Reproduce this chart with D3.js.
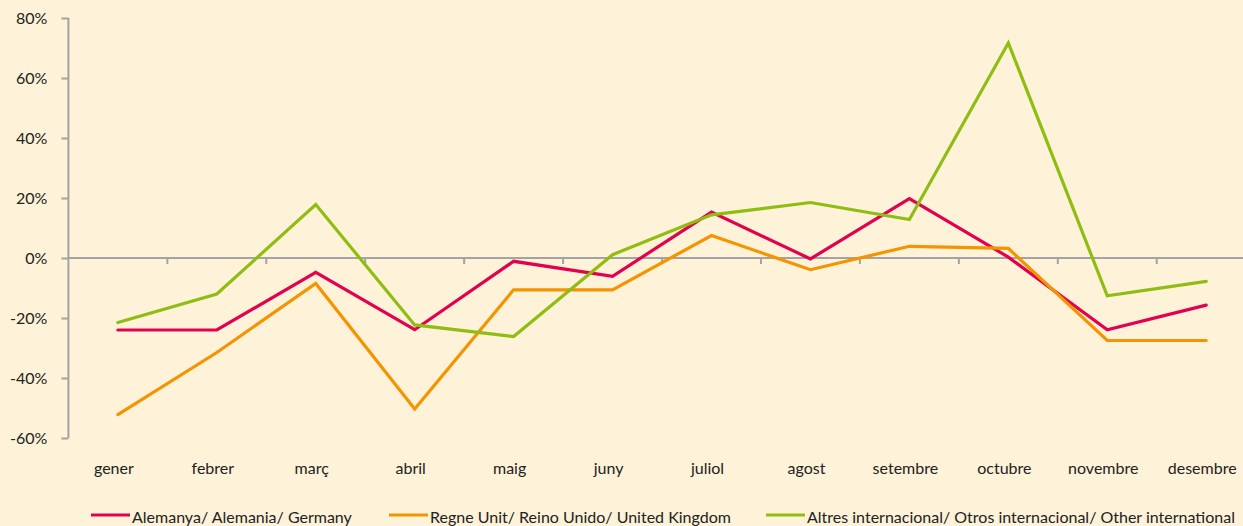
<!DOCTYPE html>
<html>
<head>
<meta charset="utf-8">
<script src="https://cdn.jsdelivr.net/npm/d3@7"></script>
<style>
  body { margin: 0; background: #fef2d8; }
  svg { display: block; }
</style>
</head>
<body>
<div id="chart"></div>
<script>
// months (categories)
var months = ["gener", "febrer", "març", "abril", "maig", "juny", "juliol", "agost", "setembre", "octubre", "novembre", "desembre"];

// series values, in %
var germany = [-24, -24, -4.8, -23.9, -1.1, -6.1, 15.3, -0.3, 19.8, 0.3, -23.9, -15.7];
var uk = [-52.2, -31.5, -8.5, -50.3, -10.6, -10.6, 7.5, -3.9, 3.9, 3.2, -27.5, -27.5];
var others = [-21.5, -12, 17.8, -22.3, -26.2, 1.1, 14.4, 18.5, 12.8, 71.7, -12.6, -7.8];

var seriesNames = ["Alemanya/ Alemania/ Germany", "Regne Unit/ Reino Unido/ United Kingdom", "Altres internacional/ Otros internacional/ Other international"];
var seriesColors = ["#e2004f", "#f39400", "#8fbd12"];
var yTicks = [-60, -40, -20, 0, 20, 40, 60, 80];

var svgWidth = 1243;
var svgHeight = 526;
var font = "Lato, 'Open Sans', sans-serif";

var svg = d3.select("#chart")
    .append("svg")
    .attr("width", svgWidth)
    .attr("height", svgHeight)
    .style("background", "#fef2d8");

// scales
var x = d3.scaleBand()
    .domain(months)
    .range([68.4, 68.4 + 12 * 98.94])
    .padding(0);

var y = d3.scaleLinear()
    .domain([-60, 80])
    .range([438, 18]);

// y axis
var yAxis = svg.append("g")
    .attr("transform", "translate(" + x.range()[0] + ",0)")
    .call(d3.axisLeft(y).tickValues(yTicks).tickSize(7).tickPadding(14)
        .tickFormat(function (d) { return d + "%"; }));
yAxis.select(".domain").attr("stroke", "#a3a3a3").attr("stroke-width", 2)
    .attr("d", "M0," + y(80) + "V" + y(-60));
yAxis.selectAll(".tick line").attr("stroke", "#a3a3a3").attr("stroke-width", 2);
yAxis.selectAll(".tick text")
    .attr("fill", "#222")
    .style("font-family", font)
    .style("font-size", "16px");

// zero line with ticks at category boundaries
svg.append("line")
    .attr("x1", x.range()[0])
    .attr("x2", svgWidth)
    .attr("y1", y(0))
    .attr("y2", y(0))
    .attr("stroke", "#a3a3a3")
    .attr("stroke-width", 2);

svg.selectAll(".xtick")
    .data(months.slice(1))
    .enter()
    .append("line")
    .attr("class", "xtick")
    .attr("x1", function (d) { return x(d); })
    .attr("x2", function (d) { return x(d); })
    .attr("y1", y(0))
    .attr("y2", y(0) + 6)
    .attr("stroke", "#a3a3a3")
    .attr("stroke-width", 2);

// month labels
svg.selectAll(".month")
    .data(months)
    .enter()
    .append("text")
    .attr("class", "month")
    .attr("x", function (d) { return x(d) + x.bandwidth() / 2 - 4; })
    .attr("y", 474)
    .attr("text-anchor", "middle")
    .attr("fill", "#222")
    .style("font-family", font)
    .style("font-size", "16px")
    .text(function (d) { return d; });

// lines
var line = d3.line()
    .x(function (d, i) { return x(months[i]) + x.bandwidth() / 2; })
    .y(function (d) { return y(d); });

var allSeries = [germany, uk, others];

svg.selectAll(".series")
    .data(allSeries)
    .enter()
    .append("path")
    .attr("class", "series")
    .attr("d", line)
    .attr("fill", "none")
    .attr("stroke", function (d, i) { return seriesColors[i]; })
    .attr("stroke-width", 3.2)
    .attr("stroke-linejoin", "miter")
    .attr("stroke-linecap", "round");

// legend
var legendX = [91, 389, 766];
var legend = svg.selectAll(".legend")
    .data(seriesNames)
    .enter()
    .append("g")
    .attr("class", "legend")
    .attr("transform", function (d, i) { return "translate(" + legendX[i] + ",515)"; });

legend.append("line")
    .attr("x1", 0)
    .attr("x2", 39)
    .attr("stroke", function (d, i) { return seriesColors[i]; })
    .attr("stroke-width", 3);

legend.append("text")
    .attr("x", 41)
    .attr("y", 8)
    .attr("fill", "#222")
    .style("font-family", font)
    .style("font-size", "16px")
    .text(function (d) { return d; });
</script>
</body>
</html>
